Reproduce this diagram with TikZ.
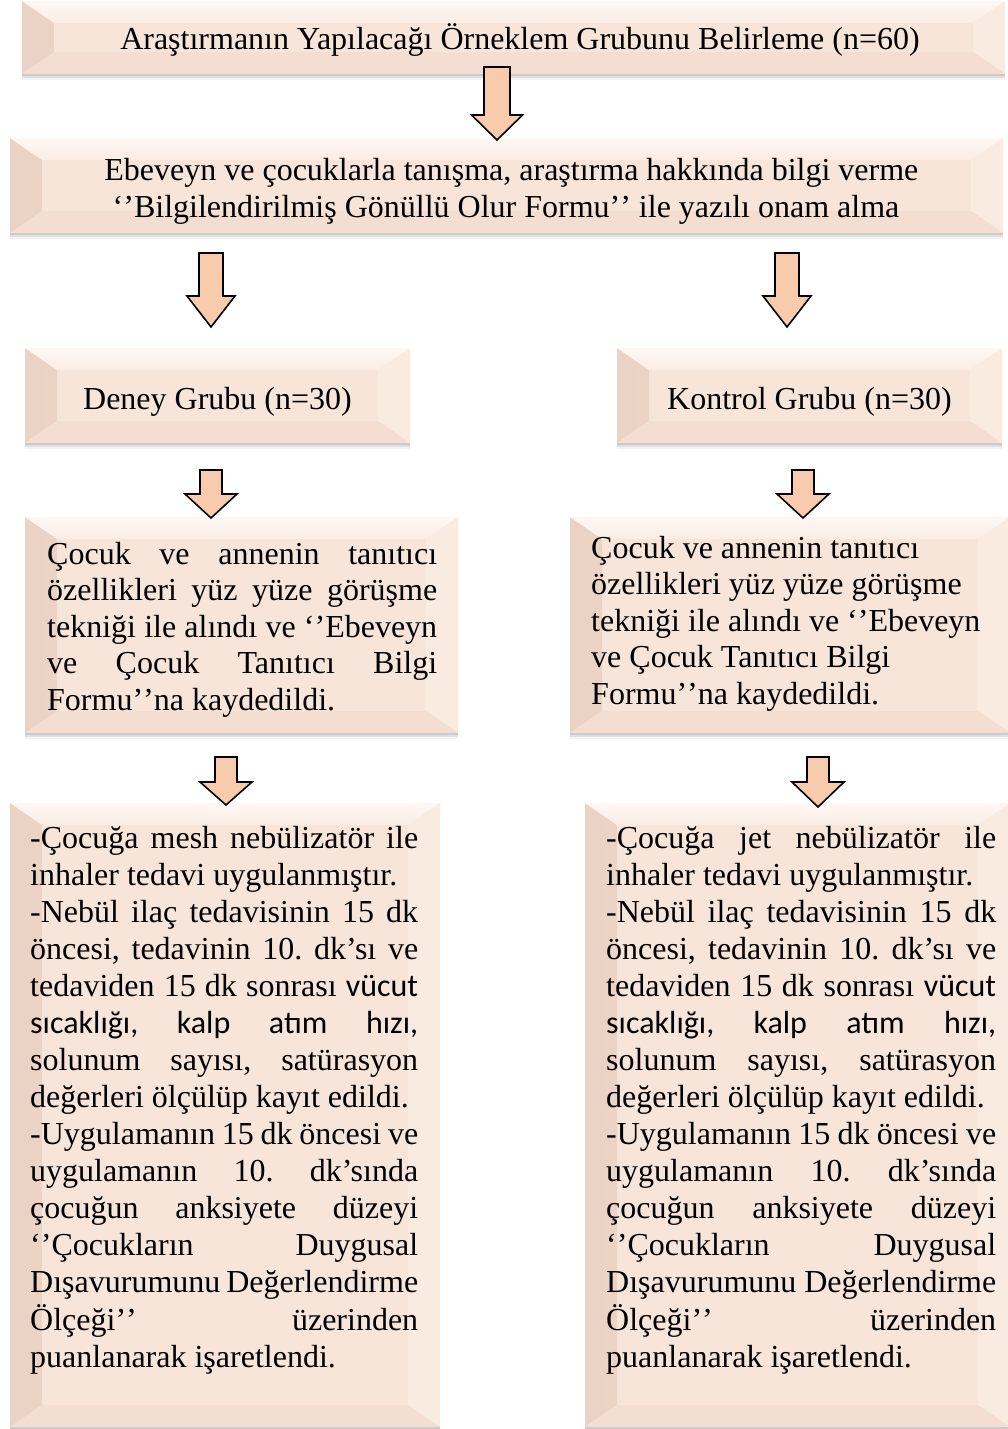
\documentclass[tikz,border=0pt]{standalone}
\usepackage{fontspec}
\setmainfont{Liberation Serif}
\newfontfamily\carl{Carlito}
\definecolor{bmid}{RGB}{248,229,217}
\definecolor{btop}{RGB}{254,248,244}
\definecolor{bleft}{RGB}{234,210,196}
\definecolor{bright}{RGB}{250,235,225}
\definecolor{bbot}{RGB}{243,222,209}
\definecolor{arrfill}{RGB}{248,203,173}
\newdimen\tw
\newcommand\setw[1]{\tw=#1\relax\spaceskip=0pt\relax\xspaceskip=0pt\relax}
\newcommand\jln[1]{\hbox to\tw{\strut#1}}
\newcommand\lln[1]{\hbox to\tw{\strut#1\hfil}}
\newcommand\cln[1]{\hbox to\tw{\hfil\strut#1\hfil}}
\newcommand\q{’\kern0pt’}
\newcommand\oq{‘\kern0pt’}
\newcommand\barrow[7]{%
  \draw[arrowst] (#2-#6,#3) coordinate (#1) -- (#2+#6,#3) -- (#2+#6,#4) -- (#2+#7,#4) -- (#2,#5) -- (#2-#7,#4) -- (#2-#6,#4) -- cycle;}
\tikzset{
  bevbox/.style={inner sep=0pt, fill=bmid,
    preaction={fill=black, opacity=0.05, transform canvas={yshift=-6pt}},
    preaction={fill=black, opacity=0.07, transform canvas={yshift=-4pt}},
    preaction={fill=black, opacity=0.10, transform canvas={yshift=-2pt}},
    path picture={
      \shade[left color=bleft, right color=bmid!75!bleft]
        (path picture bounding box.north west) -- ([xshift=32pt,yshift=-22pt]path picture bounding box.north west)
        -- ([xshift=32pt,yshift=22pt]path picture bounding box.south west) -- (path picture bounding box.south west) -- cycle;
      \fill[bright]
        (path picture bounding box.north east) -- ([xshift=-32pt,yshift=-22pt]path picture bounding box.north east)
        -- ([xshift=-32pt,yshift=22pt]path picture bounding box.south east) -- (path picture bounding box.south east) -- cycle;
      \shade[top color=btop, bottom color=bmid!60!btop]
        (path picture bounding box.north west) -- (path picture bounding box.north east)
        -- ([xshift=-32pt,yshift=-22pt]path picture bounding box.north east) -- ([xshift=32pt,yshift=-22pt]path picture bounding box.north west) -- cycle;
      \fill[bbot]
        (path picture bounding box.south west) -- (path picture bounding box.south east)
        -- ([xshift=-32pt,yshift=22pt]path picture bounding box.south east) -- ([xshift=32pt,yshift=22pt]path picture bounding box.south west) -- cycle;
    }},
  arrowst/.style={fill=arrfill, draw=black, line width=1.6pt, line join=miter},
  txt/.style={inner sep=0pt, font=\fontsize{32}{36.5}\selectfont\frenchspacing},
  mtxt/.style={inner sep=0pt, font=\fontsize{32}{#1}\selectfont\frenchspacing},
}
\begin{document}
\begin{tikzpicture}[x=1pt,y=-1pt]
\useasboundingbox[fill=white] (0,0) rectangle (1008,1429);
% boxes
\node[bevbox, minimum width=983pt, minimum height=73pt] (b1) at (513.5,37.5) {};
\node[bevbox, minimum width=993pt, minimum height=95pt] (b2) at (506.5,185.5) {};
\node[bevbox, minimum width=385pt, minimum height=95pt] (b3) at (217.5,395.5) {};
\node[bevbox, minimum width=385pt, minimum height=95pt] (b4) at (809.5,395.5) {};
\node[bevbox, minimum width=433pt, minimum height=216pt] (b5) at (241.5,625) {};
\node[bevbox, minimum width=440pt, minimum height=216pt] (b6) at (790,625) {};
\node[bevbox, minimum width=430pt, minimum height=624pt] (b7) at (225,1115) {};
\node[bevbox, minimum width=425pt, minimum height=624pt] (b8) at (797.5,1115) {};
% arrows
\barrow{a1}{497}{67}{115}{140}{13}{25.5}
\barrow{a2}{211}{253}{296}{327}{12}{24}
\barrow{a3}{787}{253}{296}{327}{12}{24}
\barrow{a4}{211}{470}{494}{518}{11}{26}
\barrow{a5}{803}{470}{494}{518}{11}{26}
\barrow{a6}{226}{757}{782}{805}{11}{26}
\barrow{a7}{818}{757}{782}{807}{11}{26}
% texts
\node[txt, anchor=base] (t1) at (520,50) {Araştırmanın Yapılacağı Örneklem Grubunu Belirleme (n=60)};
\node[mtxt=37, anchor=north, text width=900pt] (t2) at (506,180-25.9) {\setw{900pt}
\cln{Ebeveyn ve çocuklarla tanışma, araştırma hakkında bilgi verme}
\cln{\oq Bilgilendirilmiş Gönüllü Olur Formu\q{} ile yazılı onam alma}};
\node[txt, anchor=base] (t3) at (217.5,409) {Deney Grubu (n=30)};
\node[txt, anchor=base] (t4) at (809.5,409) {Kontrol Grubu (n=30)};
\node[mtxt=36.5, anchor=north west, text width=390pt] (t5) at (47,553-25.55) {\setw{390pt}
\jln{Çocuk ve annenin tanıtıcı}
\jln{özellikleri yüz yüze görüşme}
\jln{tekniği ile alındı ve \oq Ebeveyn}
\jln{ve Çocuk Tanıtıcı Bilgi}
\lln{Formu\q na kaydedildi.}};
\node[mtxt=36.5, anchor=north west, text width=400pt] (t6) at (591,547-25.55) {\setw{400pt}
\lln{Çocuk ve annenin tanıtıcı}
\lln{özellikleri yüz yüze görüşme}
\lln{tekniği ile alındı ve \oq Ebeveyn}
\lln{ve Çocuk Tanıtıcı Bilgi}
\lln{Formu\q na kaydedildi.}};
\node[mtxt=37, anchor=north west, text width=388pt] (t7) at (30,837-25.9) {\setw{388pt}
\jln{-Çocuğa mesh nebülizatör ile}
\lln{inhaler tedavi uygulanmıştır.}
\jln{-Nebül ilaç tedavisinin 15 dk}
\jln{öncesi, tedavinin 10. dk’sı ve}
\jln{tedaviden 15 dk sonrası {\carl vücut}}
\jln{{\carl sıcaklığı,} {\carl kalp} {\carl atım} {\carl hızı,}}
\jln{solunum sayısı, satürasyon}
\lln{değerleri ölçülüp kayıt edildi.}
\jln{-Uygulamanın 15 dk öncesi ve}
\jln{uygulamanın 10. dk’sında}
\jln{çocuğun anksiyete düzeyi}
\jln{\oq Çocukların Duygusal}
\jln{Dışavurumunu Değerlendirme}
\jln{Ölçeği\q{} üzerinden}
\lln{puanlanarak işaretlendi.}};
\node[mtxt=37, anchor=north west, text width=390pt] (t8) at (606,837-25.9) {\setw{390pt}
\jln{-Çocuğa jet nebülizatör ile}
\lln{inhaler tedavi uygulanmıştır.}
\jln{-Nebül ilaç tedavisinin 15 dk}
\jln{öncesi, tedavinin 10. dk’sı ve}
\jln{tedaviden 15 dk sonrası {\carl vücut}}
\jln{{\carl sıcaklığı,} {\carl kalp} {\carl atım} {\carl hızı,}}
\jln{solunum sayısı, satürasyon}
\lln{değerleri ölçülüp kayıt edildi.}
\jln{-Uygulamanın 15 dk öncesi ve}
\jln{uygulamanın 10. dk’sında}
\jln{çocuğun anksiyete düzeyi}
\jln{\oq Çocukların Duygusal}
\jln{Dışavurumunu Değerlendirme}
\jln{Ölçeği\q{} üzerinden}
\lln{puanlanarak işaretlendi.}};
\end{tikzpicture}
\end{document}
